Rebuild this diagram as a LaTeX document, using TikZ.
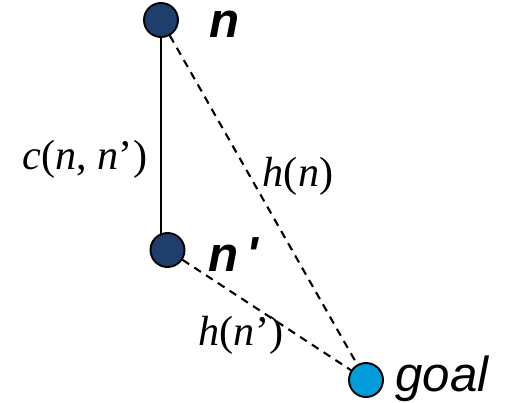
\documentclass[tikz,border=0pt]{standalone}
\usepackage{fontspec}
\setmainfont{Liberation Serif}
\setsansfont{Liberation Sans}
\usetikzlibrary{positioning}
\definecolor{statenavy}{RGB}{30,62,108}
\definecolor{goalblue}{RGB}{0,156,218}
\begin{document}
\begin{tikzpicture}[
    % Styles for nodes
    state/.style={draw=black, fill=statenavy, circle, minimum size=0.68cm, inner sep=0pt, line width=1.1pt},
    goalstate/.style={state, fill=goalblue},
    namelbl/.style={font=\fontsize{28}{30}\selectfont\sffamily\bfseries\itshape, inner sep=0pt},
    goallbl/.style={font=\fontsize{28}{30}\selectfont\sffamily\itshape, inner sep=0pt},
    costlbl/.style={font=\fontsize{24}{28}\selectfont, inner sep=0pt},
    est/.style={dash pattern=on 4.5pt off 3.5pt, line width=1.2pt}
]
    \useasboundingbox (0,0) rectangle (10.1,8.04);

    % States
    \node (n) [state] at (3.22,7.64) {};
    \node (np) [state] at (3.35,3.04) {};
    \node (goal) [goalstate] at (7.32,0.44) {};

    % State names
    \node (nlbl) [namelbl] at (4.5,7.55) {n};
    \node (nplbl) [namelbl] at (4.66,2.94) {n\,\textquotesingle};
    \node (goallbl) [goallbl] at (8.84,0.46) {goal};

    % Step cost and estimates
    \draw [line width=1.1pt] (n.south) -- ([yshift=-1pt]n.south |- np.north);
    \draw [est] (n) -- (goal);
    \draw [est] (np) -- (goal);

    \node (cost) [costlbl] at (1.7,4.86) {\textit{c}(\textit{n}, \textit{n}’)};
    \node (hn) [costlbl] at (5.96,4.52) {\textit{h}(\textit{n})};
    \node (hnp) [costlbl] at (4.82,1.34) {\textit{h}(\textit{n}’)};
\end{tikzpicture}
\end{document}
